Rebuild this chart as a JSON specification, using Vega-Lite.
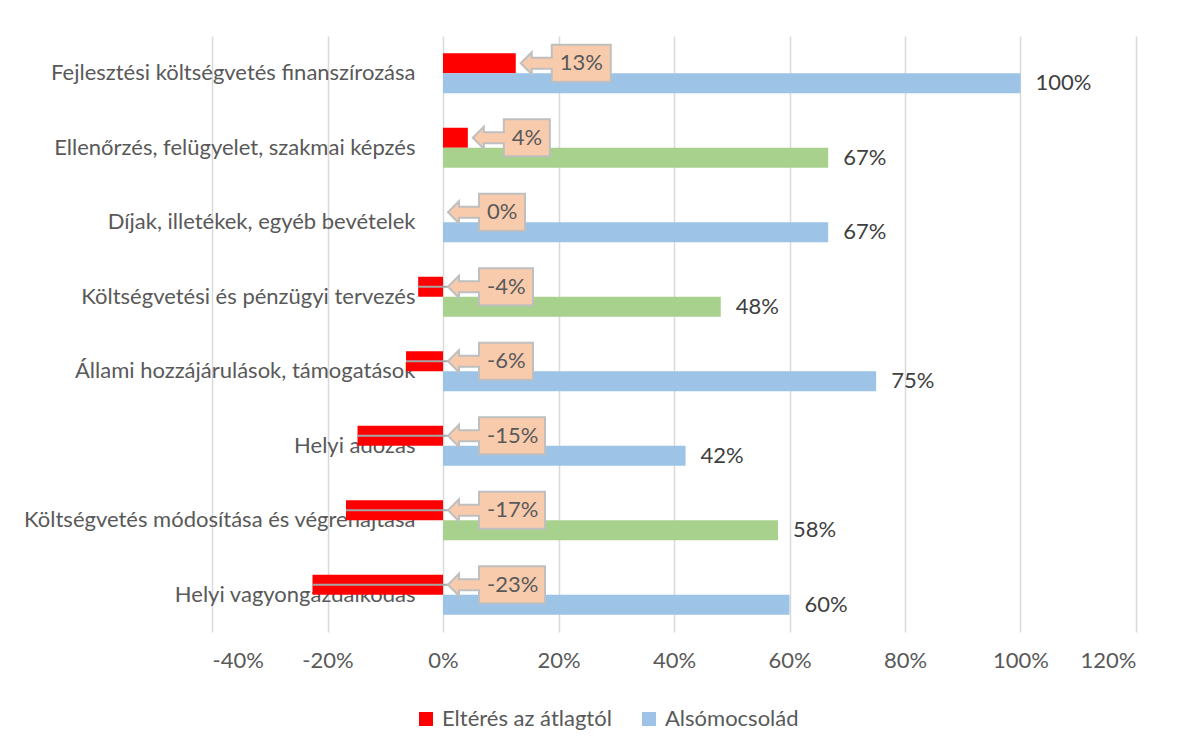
{
  "$schema": "https://vega.github.io/schema/vega-lite/v6.json",
  "width": 924,
  "height": 596,
  "autosize": {"type": "none"},
  "padding": {"left": 212, "top": 36, "right": 64, "bottom": 120},
  "background": "white",
  "config": {"font": "Lato", "view": {"stroke": null}},
  "data": {
    "values": [
      {"kategoria": "Fejlesztési költségvetés finanszírozása", "sorozat": "Eltérés az átlagtól", "ertek": 0.126, "kiemelt": false},
      {"kategoria": "Fejlesztési költségvetés finanszírozása", "sorozat": "Alsómocsolád", "ertek": 1.0, "kiemelt": false},
      {"kategoria": "Ellenőrzés, felügyelet, szakmai képzés", "sorozat": "Eltérés az átlagtól", "ertek": 0.043, "kiemelt": false},
      {"kategoria": "Ellenőrzés, felügyelet, szakmai képzés", "sorozat": "Alsómocsolád", "ertek": 0.667, "kiemelt": true},
      {"kategoria": "Díjak, illetékek, egyéb bevételek", "sorozat": "Eltérés az átlagtól", "ertek": 0.0, "kiemelt": false},
      {"kategoria": "Díjak, illetékek, egyéb bevételek", "sorozat": "Alsómocsolád", "ertek": 0.667, "kiemelt": false},
      {"kategoria": "Költségvetési és pénzügyi tervezés", "sorozat": "Eltérés az átlagtól", "ertek": -0.043, "kiemelt": false},
      {"kategoria": "Költségvetési és pénzügyi tervezés", "sorozat": "Alsómocsolád", "ertek": 0.481, "kiemelt": true},
      {"kategoria": "Állami hozzájárulások, támogatások", "sorozat": "Eltérés az átlagtól", "ertek": -0.064, "kiemelt": false},
      {"kategoria": "Állami hozzájárulások, támogatások", "sorozat": "Alsómocsolád", "ertek": 0.75, "kiemelt": false},
      {"kategoria": "Helyi adózás", "sorozat": "Eltérés az átlagtól", "ertek": -0.148, "kiemelt": false},
      {"kategoria": "Helyi adózás", "sorozat": "Alsómocsolád", "ertek": 0.42, "kiemelt": false},
      {"kategoria": "Költségvetés módosítása és végrehajtása", "sorozat": "Eltérés az átlagtól", "ertek": -0.168, "kiemelt": false},
      {"kategoria": "Költségvetés módosítása és végrehajtása", "sorozat": "Alsómocsolád", "ertek": 0.58, "kiemelt": true},
      {"kategoria": "Helyi vagyongazdálkodás", "sorozat": "Eltérés az átlagtól", "ertek": -0.226, "kiemelt": false},
      {"kategoria": "Helyi vagyongazdálkodás", "sorozat": "Alsómocsolád", "ertek": 0.6, "kiemelt": false}
    ]
  },
  "transform": [
    {"calculate": "round(datum.ertek * 100) + '%'", "as": "cimke"},
    {"calculate": "max(datum.ertek, 0)", "as": "horgony"}
  ],
  "encoding": {
    "y": {
      "field": "kategoria",
      "type": "nominal",
      "sort": [
        "Fejlesztési költségvetés finanszírozása",
        "Ellenőrzés, felügyelet, szakmai képzés",
        "Díjak, illetékek, egyéb bevételek",
        "Költségvetési és pénzügyi tervezés",
        "Állami hozzájárulások, támogatások",
        "Helyi adózás",
        "Költségvetés módosítása és végrehajtása",
        "Helyi vagyongazdálkodás"
      ],
      "scale": {"paddingInner": 0.463, "paddingOuter": 0.2315},
      "axis": {
        "title": null,
        "domain": false,
        "ticks": false,
        "tickSize": 0,
        "grid": false,
        "labelPadding": -203,
        "labelAlign": "right",
        "labelFontSize": 22,
        "labelColor": "#595959",
        "labelLimit": 600,
        "zindex": 0
      }
    },
    "yOffset": {
      "field": "sorozat",
      "type": "nominal",
      "sort": ["Eltérés az átlagtól", "Alsómocsolád"],
      "scale": {"paddingInner": 0, "paddingOuter": 0}
    }
  },
  "layer": [
    {
      "mark": {"type": "bar"},
      "encoding": {
        "x": {
          "field": "ertek",
          "type": "quantitative",
          "title": null,
          "scale": {"domain": [-0.4, 1.2], "nice": false, "zero": false},
          "axis": {
            "values": [-0.4, -0.2, 0, 0.2, 0.4, 0.6, 0.8, 1.0, 1.2],
            "labelExpr": "round(datum.value * 100) + '%'",
            "grid": true,
            "gridColor": "#D9D9D9",
            "gridWidth": 1.5,
            "domain": false,
            "ticks": false,
            "tickSize": 0,
            "labelPadding": 18,
            "labelFontSize": 22,
            "labelColor": "#595959",
            "title": null
          }
        },
        "x2": {"datum": 0},
        "color": {
          "condition": {"test": "datum.kiemelt", "value": "#A9D18E"},
          "field": "sorozat",
          "type": "nominal",
          "scale": {"domain": ["Eltérés az átlagtól", "Alsómocsolád"], "range": ["#FF0000", "#9DC3E6"]},
          "legend": {
            "orient": "none",
            "legendX": 203,
            "legendY": 672,
            "direction": "horizontal",
            "title": null,
            "symbolType": "square",
            "symbolSize": 196,
            "symbolStrokeWidth": 0,
            "symbolOpacity": 1,
            "labelFontSize": 22,
            "labelColor": "#595959",
            "labelOffset": 5,
            "columnPadding": 26,
            "padding": 0,
            "labelLimit": 400
          }
        }
      }
    },
    {
      "transform": [{"filter": "datum.sorozat == 'Eltérés az átlagtól' && datum.ertek < 0"}],
      "mark": {"type": "rule", "color": "#A6A6A6", "strokeWidth": 2},
      "encoding": {
        "x": {"field": "ertek", "type": "quantitative", "title": null},
        "x2": {"datum": 0.009}
      }
    },
    {
      "transform": [{"filter": "datum.sorozat == 'Eltérés az átlagtól'"}],
      "mark": {"type": "point", "filled": true, "size": 4, "fill": "#F8CBAD", "stroke": "#BFBFBF", "strokeWidth": 2, "opacity": 1, "fillOpacity": 1, "strokeOpacity": 1},
      "encoding": {
        "x": {"field": "horgony", "type": "quantitative", "title": null},
        "shape": {
          "condition": [
            {"test": "length(datum.cimke) == 2", "value": "M5,0L16,-11L16,-5.5L36,-5.5L36,-18.5L82,-18.5L82,18.5L36,18.5L36,5.5L16,5.5L16,11Z"},
            {"test": "length(datum.cimke) == 3 && datum.ertek < 0", "value": "M5,0L16,-11L16,-5.5L36,-5.5L36,-18.5L90,-18.5L90,18.5L36,18.5L36,5.5L16,5.5L16,11Z"},
            {"test": "length(datum.cimke) == 3", "value": "M5,0L16,-11L16,-5.5L36,-5.5L36,-18.5L95,-18.5L95,18.5L36,18.5L36,5.5L16,5.5L16,11Z"}
          ],
          "value": "M5,0L16,-11L16,-5.5L36,-5.5L36,-18.5L102,-18.5L102,18.5L36,18.5L36,5.5L16,5.5L16,11Z"
        }
      }
    },
    {
      "transform": [{"filter": "datum.sorozat == 'Eltérés az átlagtól'"}],
      "mark": {"type": "text", "align": "left", "baseline": "middle", "dx": 44, "fontSize": 22, "color": "#595959"},
      "encoding": {
        "x": {"field": "horgony", "type": "quantitative", "title": null},
        "text": {"field": "cimke"}
      }
    },
    {
      "transform": [{"filter": "datum.sorozat == 'Alsómocsolád'"}],
      "mark": {"type": "text", "align": "left", "baseline": "middle", "dx": 15, "fontSize": 22, "color": "#404040"},
      "encoding": {
        "x": {"field": "ertek", "type": "quantitative", "title": null},
        "text": {"field": "cimke"}
      }
    }
  ]
}
